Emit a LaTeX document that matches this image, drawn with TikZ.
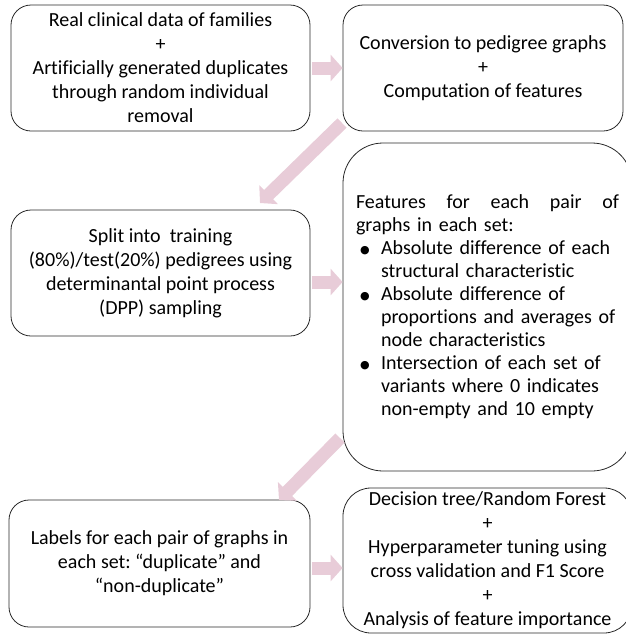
\documentclass[tikz,border=0pt]{standalone}
\usepackage{fontspec}
\setmainfont{Carlito}[Ligatures=NoCommon]
\newfontfamily\dejavu{DejaVu Sans}
\usetikzlibrary{arrows.meta,calc}
\definecolor{pinkarrow}{RGB}{232,204,216}
\definecolor{boxline}{RGB}{40,40,40}
\newcommand{\mybul}{\makebox[25pt][l]{\hspace{4pt}\raisebox{1.5pt}{\dejavu\fontsize{11}{11}\selectfont ●}}}
\newcommand{\myind}{\makebox[25pt][l]{}}
\frenchspacing
\begin{document}
\begin{tikzpicture}[x=1pt,y=-1pt,
  box/.style={draw=boxline, line width=0.8pt, rounded corners=20pt, inner sep=0pt,
    align=center, font=\fontsize{20}{24}\selectfont},
  blockarrow/.style={draw=pinkarrow, line width=13pt,
    -{Triangle[length=12pt,width=26pt,fill=pinkarrow]}}]
\useasboundingbox (0,0) rectangle (626,635);
\clip (0,0) rectangle (626,635);

\node[box, minimum width=299pt, minimum height=126pt] (b1) at (160.5,68)
  {Real clinical data of families\\+\\Artificially generated duplicates\\through random individual\\removal};
\node[box, minimum width=280pt, minimum height=126pt] (b2) at (483,68)
  {Conversion to pedigree graphs\\+\\Computation of features};
\node[box, minimum width=299pt, minimum height=126pt] (split) at (160.5,273)
  {Split into\ \ training\\(80\%)/test(20\%) pedigrees using\\determinantal point process\\(DPP) sampling};
\node[box, rounded corners=40pt, minimum width=289pt, minimum height=328pt, text width=263pt, align=left,
  font=\fontsize{20}{23}\selectfont] (feat) at (487.5,307)
  {Features\hfill for\hfill each\hfill pair\hfill of\\
   graphs in each set:\\
   \mybul Absolute difference of each\\
   \myind structural characteristic\\
   \mybul Absolute difference of\\
   \myind proportions and averages of\\
   \myind node characteristics\\
   \mybul Intersection of each set of\\
   \myind variants where 0 indicates\\
   \myind non-empty and 10 empty};
\node[box, minimum width=301pt, minimum height=127pt] (labels) at (159.5,563.5)
  {Labels for each pair of graphs in\\each set: “duplicate” and\\“non-duplicate”};
\node[box, rounded corners=28pt, minimum width=289pt, minimum height=145pt] (dec) at (487.5,560.5)
  {Decision tree/Random Forest\\+\\Hyperparameter tuning using\\cross validation and F1 Score\\+\\Analysis of feature importance};

\coordinate (a2s) at (342,123);
\coordinate (a2e) at (260,203);
\coordinate (a4s) at (340,438);
\coordinate (a4e) at (279,500);

\draw[blockarrow] ([xshift=2pt]b1.east) -- (b2.west);
\draw[blockarrow] (a2s) -- (a2e);
\draw[blockarrow] ([shift={(2pt,-9pt)}]split.east) -- ([yshift=-9pt]split.east -| feat.west);
\draw[blockarrow] (a4s) -- (a4e);
\draw[blockarrow] ([shift={(2pt,-4.5pt)}]labels.east) -- ([yshift=-4.5pt]labels.east -| dec.west);
\end{tikzpicture}
\end{document}
